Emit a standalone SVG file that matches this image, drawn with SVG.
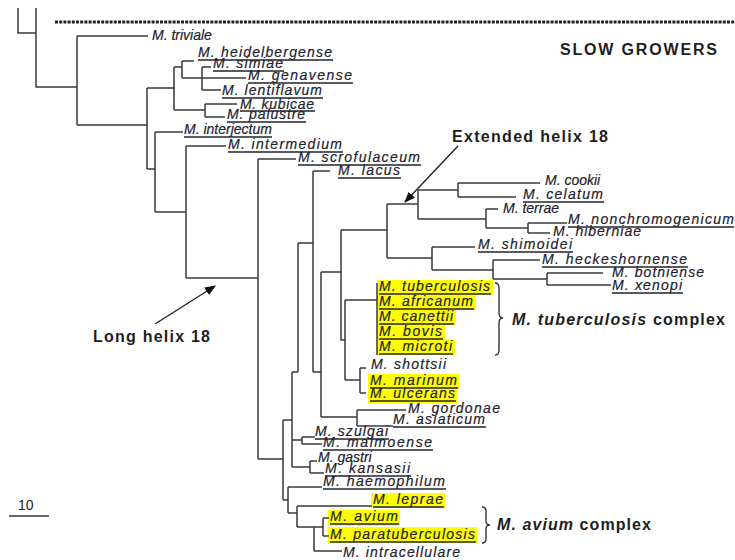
<svg xmlns="http://www.w3.org/2000/svg" width="735" height="560" viewBox="0 0 735 560">
<style>
.t{stroke:#3a3a3a;stroke-width:1.5;fill:none}
.lb{font-family:"Liberation Sans",Arial,sans-serif;font-style:italic;font-size:14px;fill:#22222e;stroke:#22222e;stroke-width:0.2}
.ul{stroke:#22222e;stroke-width:1.3}
.hl{fill:#ffff00}
.bd{font-family:"Liberation Sans",Arial,sans-serif;font-weight:bold;font-size:16px;fill:#1e1e1e}
.br{stroke:#333;stroke-width:1.4;fill:none}
.ar{stroke:#222;stroke-width:1.4;fill:none}
</style>
<defs>
<marker id="ah" viewBox="0 0 10 8" refX="9" refY="4" markerWidth="11" markerHeight="9" markerUnits="userSpaceOnUse" orient="auto">
<path d="M0,0 L10,4 L0,8 z" fill="#111"/>
</marker>
</defs>
<rect width="735" height="560" fill="#fff"/>
<line x1="55" y1="22" x2="735" y2="22" stroke="#222" stroke-width="3.2" stroke-dasharray="3 1.2"/>
<g id="highlights">
<rect class="hl" x="377" y="280" width="116" height="15"/>
<rect class="hl" x="377" y="295" width="99" height="15"/>
<rect class="hl" x="377" y="310" width="79" height="15"/>
<rect class="hl" x="377" y="325" width="68" height="15"/>
<rect class="hl" x="377" y="340" width="78" height="15"/>
<rect class="hl" x="368" y="374" width="91" height="15"/>
<rect class="hl" x="368" y="389" width="89" height="14"/>
<rect class="hl" x="371" y="493" width="74" height="15"/>
<rect class="hl" x="328" y="510" width="72" height="16"/>
<rect class="hl" x="328" y="527" width="149" height="16"/>
</g>
<g id="connectors">
<path class="t" d="M18,8 V33 H36 M36,8 V87 H77 M77,36 V125 M77,36 H148 M77,125 H147 M147,88 V169 M147,88 H174 M147,169 H155 M174,67 V110 M174,67 H182 M174,110 H205 M182,61 V78 M182,61 H194 M182,78 H246 M202,67 V90 M202,67 H211 M202,90 H221 M205,104 V117 M205,104 H237 M205,117 H225 M155,132 V212 M155,132 H183 M155,212 H186 M186,146 V278 M186,146 H226 M186,278 H258 M258,159 V459 M258,159 H296 M258,459 H283"/>
<path class="t" d="M298,243 V372 M298,243 H313 M292,372 H298 M313,171 V372 M313,171 H330 M313,372 H321 M321,272 V417 M321,272 H341 M321,417 H357 M341,230 V340 H345 M341,230 H387 M345,300 V380 M345,300 H377 M345,380 H360 M360,368 V393 M360,368 H366 M360,393 H366 M377,283 V355 M387,204 V258 M387,204 H418 M387,258 H432 M418,190 V219 M418,190 H458 M418,219 H486 M458,183 V197 M458,183 H540 M458,197 H516 M486,209 V228 M486,209 H498 M486,228 H528 M528,223 V233 M528,223 H567 M528,233 H550 M432,247 V270 M432,247 H475 M432,270 H493 M493,260 V279 M493,260 H540 M493,279 H547 M547,273 V285 M547,273 H603 M547,285 H611 M357,410 V426 M357,410 H406 M357,426 H393"/>
<path class="t" d="M283,420 V500 M283,420 H292 M292,372 V467 M292,440 H302 M302,437 V444 M302,437 H315 M302,444 H322 M292,467 H310 M310,461 V473 M310,461 H317 M310,473 H324 M283,500 H288 M288,487 V513 M288,487 H322 M288,513 H297 M297,506 V527 M297,506 H372 M297,527 H323 M314,527 V551 M314,551 H342 M323,518 V536 M323,518 H329 M323,536 H329"/>
<path class="br" d="M9,516 H49"/>
</g>
<g id="n-triviale"><text class="lb" x="152" y="40">M. triviale</text></g>
<g id="n-heidelbergense"><text class="lb" x="198" y="57" textLength="134">M. heidelbergense</text><line class="ul" x1="198" y1="60" x2="333" y2="60"/></g>
<g id="n-simiae"><text class="lb" x="213" y="68" textLength="70">M. simiae</text><line class="ul" x1="213" y1="71" x2="284" y2="71"/></g>
<g id="n-genavense"><text class="lb" x="248" y="80" textLength="104">M. genavense</text><line class="ul" x1="248" y1="83" x2="353" y2="83"/></g>
<g id="n-lentiflavum"><text class="lb" x="222" y="95" textLength="100">M. lentiflavum</text><line class="ul" x1="222" y1="98" x2="323" y2="98"/></g>
<g id="n-kubicae"><text class="lb" x="240" y="109" textLength="74">M. kubicae</text><line class="ul" x1="240" y1="111" x2="315" y2="111"/></g>
<g id="n-palustre"><text class="lb" x="227" y="119" textLength="78">M. palustre</text><line class="ul" x1="227" y1="122" x2="306" y2="122"/></g>
<g id="n-interjectum"><text class="lb" x="184" y="134">M. interjectum</text><line class="ul" x1="184" y1="137" x2="272" y2="137"/></g>
<g id="n-intermedium"><text class="lb" x="228" y="149" textLength="114">M. intermedium</text><line class="ul" x1="228" y1="152" x2="343" y2="152"/></g>
<g id="n-scrofulaceum"><text class="lb" x="298" y="162" textLength="122">M. scrofulaceum</text><line class="ul" x1="298" y1="165" x2="421" y2="165"/></g>
<g id="n-lacus"><text class="lb" x="338" y="175" textLength="62">M. lacus</text><line class="ul" x1="338" y1="178" x2="401" y2="178"/></g>
<g id="n-cookii"><text class="lb" x="545" y="185">M. cookii</text></g>
<g id="n-celatum"><text class="lb" x="523" y="199" textLength="80">M. celatum</text><line class="ul" x1="523" y1="202" x2="604" y2="202"/></g>
<g id="n-terrae"><text class="lb" x="503" y="213">M. terrae</text></g>
<g id="n-nonchromogenicum"><text class="lb" x="568" y="224" textLength="166">M. nonchromogenicum</text><line class="ul" x1="568" y1="227" x2="734" y2="227"/></g>
<g id="n-hiberniae"><text class="lb" x="553" y="236" textLength="88">M. hiberniae</text></g>
<g id="n-shimoidei"><text class="lb" x="478" y="249" textLength="94">M. shimoidei</text><line class="ul" x1="478" y1="252" x2="573" y2="252"/></g>
<g id="n-heckeshornense"><text class="lb" x="542" y="264" textLength="145">M. heckeshornense</text><line class="ul" x1="542" y1="267" x2="688" y2="267"/></g>
<g id="n-botniense"><text class="lb" x="612" y="277" textLength="92">M. botniense</text></g>
<g id="n-xenopi"><text class="lb" x="612" y="290" textLength="70">M. xenopi</text><line class="ul" x1="612" y1="293" x2="683" y2="293"/></g>
<g id="n-tuberculosis"><text class="lb" x="379" y="291" textLength="111">M. tuberculosis</text><line class="ul" x1="379" y1="294" x2="491" y2="294"/></g>
<g id="n-africanum"><text class="lb" x="379" y="306" textLength="94">M. africanum</text><line class="ul" x1="379" y1="309" x2="474" y2="309"/></g>
<g id="n-canettii"><text class="lb" x="379" y="321" textLength="74">M. canettii</text><line class="ul" x1="379" y1="324" x2="454" y2="324"/></g>
<g id="n-bovis"><text class="lb" x="379" y="336" textLength="63">M. bovis</text><line class="ul" x1="379" y1="339" x2="443" y2="339"/></g>
<g id="n-microti"><text class="lb" x="379" y="351" textLength="73">M. microti</text><line class="ul" x1="379" y1="354" x2="453" y2="354"/></g>
<g id="n-shottsii"><text class="lb" x="371" y="369" textLength="75">M. shottsii</text></g>
<g id="n-marinum"><text class="lb" x="370" y="385" textLength="87">M. marinum</text><line class="ul" x1="370" y1="388" x2="458" y2="388"/></g>
<g id="n-ulcerans"><text class="lb" x="370" y="398" textLength="85">M. ulcerans</text><line class="ul" x1="370" y1="401" x2="456" y2="401"/></g>
<g id="n-gordonae"><text class="lb" x="408" y="413" textLength="92">M. gordonae</text></g>
<g id="n-asiaticum"><text class="lb" x="393" y="424" textLength="92">M. asiaticum</text><line class="ul" x1="393" y1="427" x2="486" y2="427"/></g>
<g id="n-szulgai"><text class="lb" x="315" y="436" textLength="73">M. szulgai</text><line class="ul" x1="315" y1="439" x2="389" y2="439"/></g>
<g id="n-malmoense"><text class="lb" x="323" y="447" textLength="109">M. malmoense</text><line class="ul" x1="323" y1="450" x2="433" y2="450"/></g>
<g id="n-gastri"><text class="lb" x="318" y="462">M. gastri</text></g>
<g id="n-kansasii"><text class="lb" x="325" y="473" textLength="85">M. kansasii</text><line class="ul" x1="325" y1="476" x2="411" y2="476"/></g>
<g id="n-haemophilum"><text class="lb" x="323" y="486" textLength="122">M. haemophilum</text><line class="ul" x1="323" y1="489" x2="446" y2="489"/></g>
<g id="n-leprae"><text class="lb" x="373" y="504" textLength="70">M. leprae</text><line class="ul" x1="373" y1="507" x2="444" y2="507"/></g>
<g id="n-avium"><text class="lb" x="330" y="521" textLength="68">M. avium</text><line class="ul" x1="330" y1="524" x2="399" y2="524"/></g>
<g id="n-paratuberculosis"><text class="lb" x="330" y="539" textLength="145">M. paratuberculosis</text><line class="ul" x1="330" y1="542" x2="476" y2="542"/></g>
<g id="n-intracellulare"><text class="lb" x="343" y="557" textLength="117">M. intracellulare</text></g>
<g id="tb-complex">
<path class="br" d="M495,283 Q499,283 499,288 V313 Q499,318 503,318 Q499,318 499,323 V350 Q499,355 495,355"/>
<text class="bd" x="512" y="325" textLength="213"><tspan font-style="italic">M. tuberculosis</tspan> complex</text>
</g>
<g id="avium-complex">
<path class="br" d="M482,507 Q486,507 486,511 V521 Q486,525 490,525 Q486,525 486,529 V539 Q486,543 482,543"/>
<text class="bd" x="497" y="530" textLength="154"><tspan font-style="italic">M. avium</tspan> complex</text>
</g>
<g id="slow-growers"><text class="bd" x="560" y="55" textLength="157">SLOW GROWERS</text></g>
<g id="extended-helix">
<text class="bd" x="452" y="142" textLength="156">Extended helix 18</text>
<line class="ar" x1="458" y1="146" x2="405" y2="202" marker-end="url(#ah)"/>
</g>
<g id="long-helix">
<text class="bd" x="93" y="342" textLength="117">Long helix 18</text>
<line class="ar" x1="155" y1="324" x2="215" y2="286" marker-end="url(#ah)"/>
</g>
<g id="scale"><text x="18" y="510" font-family="Liberation Sans, Arial, sans-serif" font-size="14" fill="#222">10</text></g>
</svg>
